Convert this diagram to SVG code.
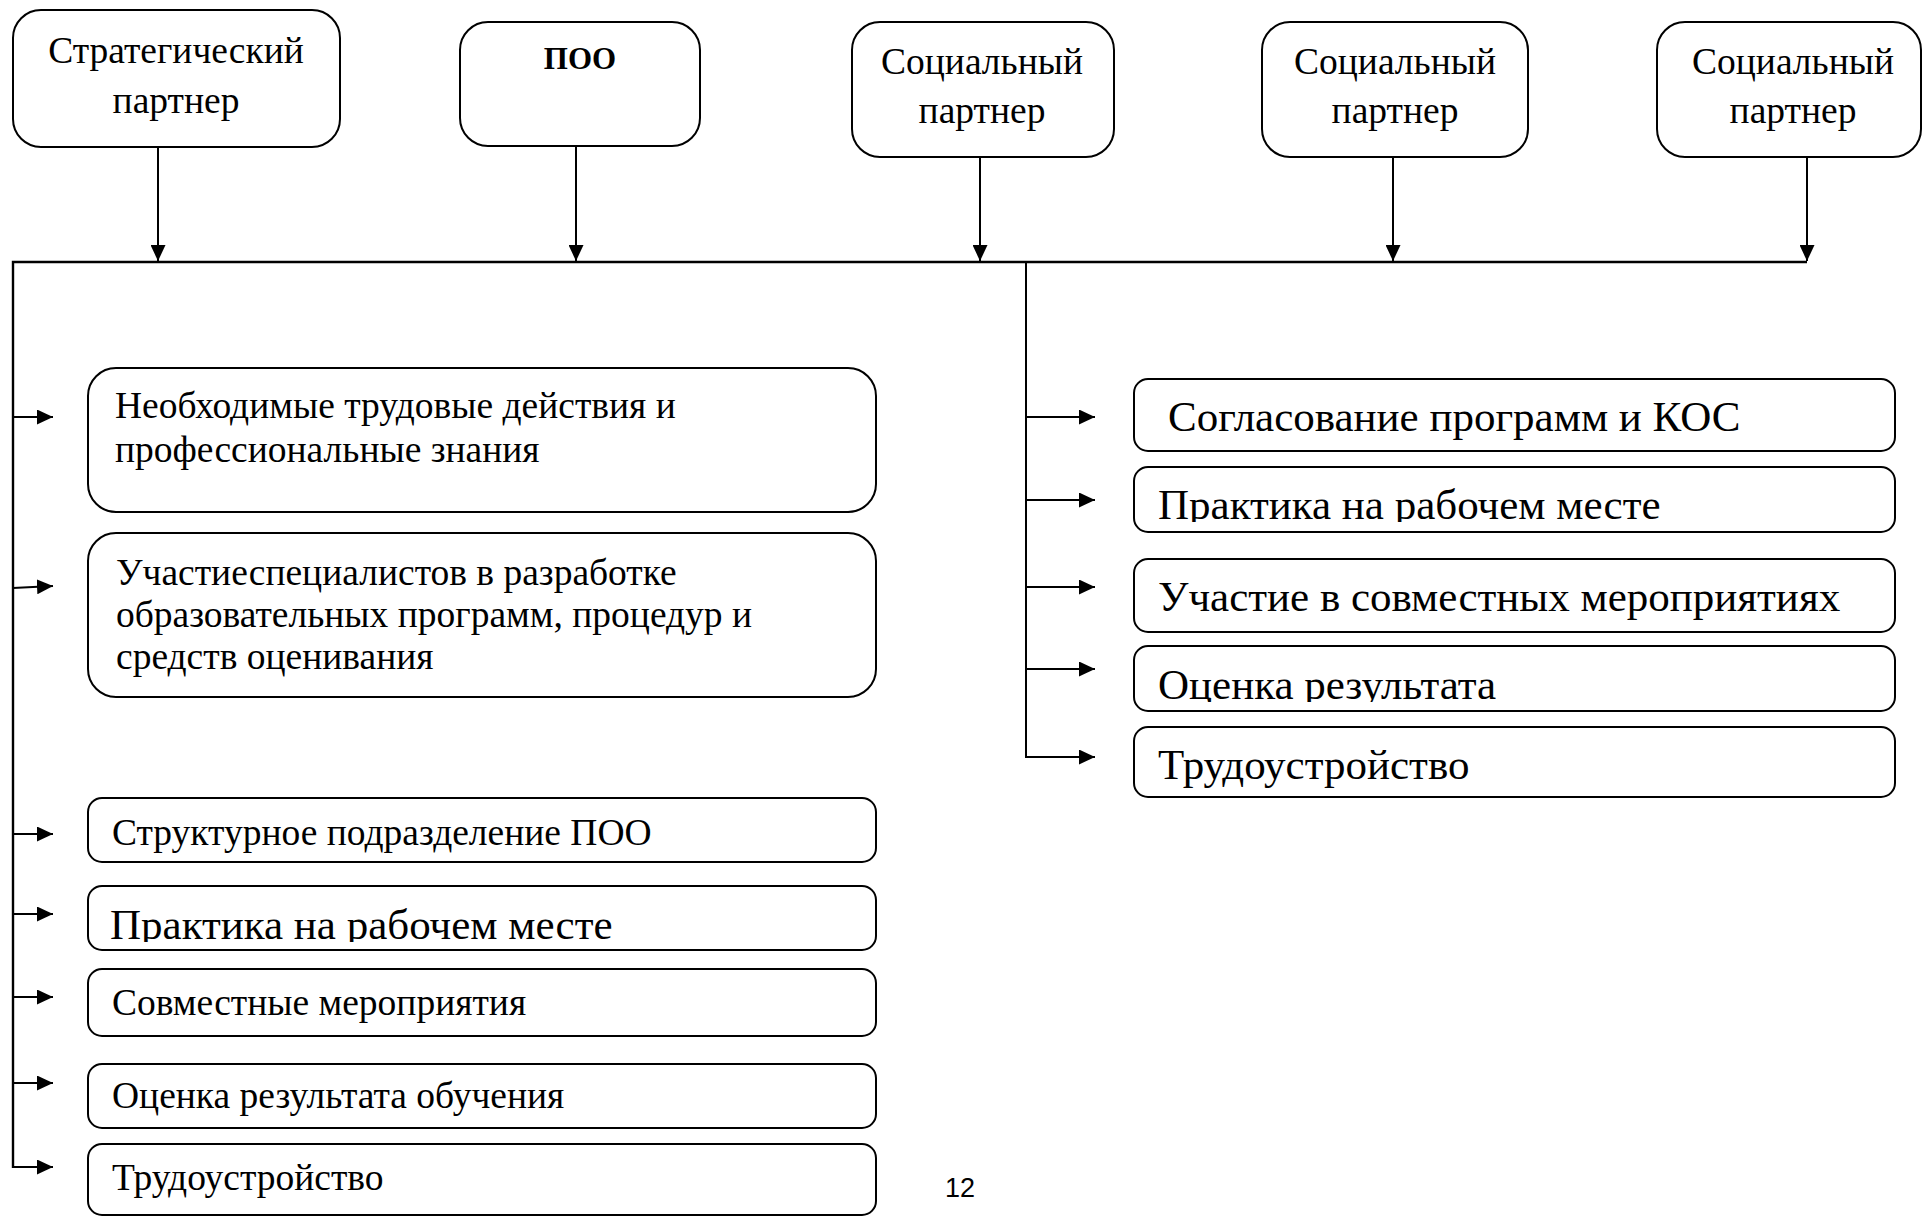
<svg xmlns="http://www.w3.org/2000/svg" width="1923" height="1217" viewBox="0 0 1923 1217">
<style>
.box{fill:#fff;stroke:#000;stroke-width:2}
.t{font-family:"Liberation Serif","Times New Roman",serif;fill:#000}
.top{font-size:37.5px;text-anchor:middle}
.sm{font-size:37.5px}
.lg{font-size:43px}
.ln{fill:none;stroke:#000;stroke-width:2}
</style>
<defs>
<marker id="ah" markerUnits="userSpaceOnUse" markerWidth="16" markerHeight="15" refX="16" refY="7.5" orient="auto">
<path d="M0,0 L16,7.5 L0,15 z" fill="#000"/>
</marker>
<clipPath id="cL4"><rect x="88" y="886" width="788" height="56"/></clipPath>
<clipPath id="cR2"><rect x="1134" y="467" width="761" height="55"/></clipPath>
<clipPath id="cR4"><rect x="1134" y="646" width="761" height="56"/></clipPath>
</defs>
<rect width="1923" height="1217" fill="#fff"/>

<g id="connectors">
<line class="ln" x1="158" y1="147" x2="158" y2="261" marker-end="url(#ah)"/>
<line class="ln" x1="576" y1="146" x2="576" y2="261" marker-end="url(#ah)"/>
<line class="ln" x1="980" y1="157" x2="980" y2="261" marker-end="url(#ah)"/>
<line class="ln" x1="1393" y1="157" x2="1393" y2="261" marker-end="url(#ah)"/>
<line class="ln" x1="1807" y1="157" x2="1807" y2="261" marker-end="url(#ah)"/>
<polyline class="ln" points="13,1168 13,262 1807,262" style="stroke-width:2.4"/>
<line class="ln" x1="13" y1="417" x2="53" y2="417" marker-end="url(#ah)"/>
<line class="ln" x1="13" y1="588" x2="53" y2="586" marker-end="url(#ah)"/>
<line class="ln" x1="13" y1="834" x2="53" y2="834" marker-end="url(#ah)"/>
<line class="ln" x1="13" y1="914" x2="53" y2="914" marker-end="url(#ah)"/>
<line class="ln" x1="13" y1="997" x2="53" y2="997" marker-end="url(#ah)"/>
<line class="ln" x1="13" y1="1083" x2="53" y2="1083" marker-end="url(#ah)"/>
<polyline class="ln" points="13,1167 53,1167" marker-end="url(#ah)"/>
<polyline class="ln" points="1026,262 1026,757 1095,757" marker-end="url(#ah)"/>
<line class="ln" x1="1026" y1="417" x2="1095" y2="417" marker-end="url(#ah)"/>
<line class="ln" x1="1026" y1="500" x2="1095" y2="500" marker-end="url(#ah)"/>
<line class="ln" x1="1026" y1="587" x2="1095" y2="587" marker-end="url(#ah)"/>
<line class="ln" x1="1026" y1="669" x2="1095" y2="669" marker-end="url(#ah)"/>
</g>

<g id="strategic-partner">
<rect class="box" x="13" y="10" width="327" height="137" rx="28"/>
<text class="t top" x="176" y="63">Стратегический</text>
<text class="t top" x="176" y="113">партнер</text>
</g>
<g id="poo">
<rect class="box" x="460" y="22" width="240" height="124" rx="28"/>
<text class="t" x="580" y="69" font-size="31" font-weight="bold" text-anchor="middle">ПОО</text>
</g>
<g id="social-partner-1">
<rect class="box" x="852" y="22" width="262" height="135" rx="28"/>
<text class="t top" x="982" y="74">Социальный</text>
<text class="t top" x="982" y="123">партнер</text>
</g>
<g id="social-partner-2">
<rect class="box" x="1262" y="22" width="266" height="135" rx="28"/>
<text class="t top" x="1395" y="74">Социальный</text>
<text class="t top" x="1395" y="123">партнер</text>
</g>
<g id="social-partner-3">
<rect class="box" x="1657" y="22" width="264" height="135" rx="28"/>
<text class="t top" x="1793" y="74">Социальный</text>
<text class="t top" x="1793" y="123">партнер</text>
</g>

<g id="left-1">
<rect class="box" x="88" y="368" width="788" height="144" rx="28"/>
<text class="t sm" x="115" y="418">Необходимые трудовые действия и</text>
<text class="t sm" x="115" y="462">профессиональные знания</text>
</g>
<g id="left-2">
<rect class="box" x="88" y="533" width="788" height="164" rx="28"/>
<text class="t sm" x="116" y="585">Участиеспециалистов в разработке</text>
<text class="t sm" x="116" y="627">образовательных программ, процедур и</text>
<text class="t sm" x="116" y="669">средств оценивания</text>
</g>
<g id="left-3">
<rect class="box" x="88" y="798" width="788" height="64" rx="14"/>
<text class="t sm" x="112" y="845">Структурное подразделение ПОО</text>
</g>
<g id="left-4">
<rect class="box" x="88" y="886" width="788" height="64" rx="14"/>
<text class="t lg" x="110" y="939" clip-path="url(#cL4)">Практика на рабочем месте</text>
</g>
<g id="left-5">
<rect class="box" x="88" y="969" width="788" height="67" rx="14"/>
<text class="t sm" x="112" y="1015">Совместные мероприятия</text>
</g>
<g id="left-6">
<rect class="box" x="88" y="1064" width="788" height="64" rx="14"/>
<text class="t sm" x="112" y="1108">Оценка результата обучения</text>
</g>
<g id="left-7">
<rect class="box" x="88" y="1144" width="788" height="71" rx="14"/>
<text class="t sm" x="112" y="1190">Трудоустройство</text>
</g>

<g id="right-1">
<rect class="box" x="1134" y="379" width="761" height="72" rx="14"/>
<text class="t lg" x="1168" y="431">Согласование программ и КОС</text>
</g>
<g id="right-2">
<rect class="box" x="1134" y="467" width="761" height="65" rx="14"/>
<text class="t lg" x="1158" y="519" clip-path="url(#cR2)">Практика на рабочем месте</text>
</g>
<g id="right-3">
<rect class="box" x="1134" y="559" width="761" height="73" rx="14"/>
<text class="t lg" x="1158" y="611">Участие в совместных мероприятиях</text>
</g>
<g id="right-4">
<rect class="box" x="1134" y="646" width="761" height="65" rx="14"/>
<text class="t lg" x="1158" y="699" clip-path="url(#cR4)">Оценка результата</text>
</g>
<g id="right-5">
<rect class="box" x="1134" y="727" width="761" height="70" rx="14"/>
<text class="t lg" x="1158" y="779">Трудоустройство</text>
</g>

<text x="945" y="1197" font-family="Liberation Sans, Arial, sans-serif" font-size="27" fill="#000">12</text>
</svg>
